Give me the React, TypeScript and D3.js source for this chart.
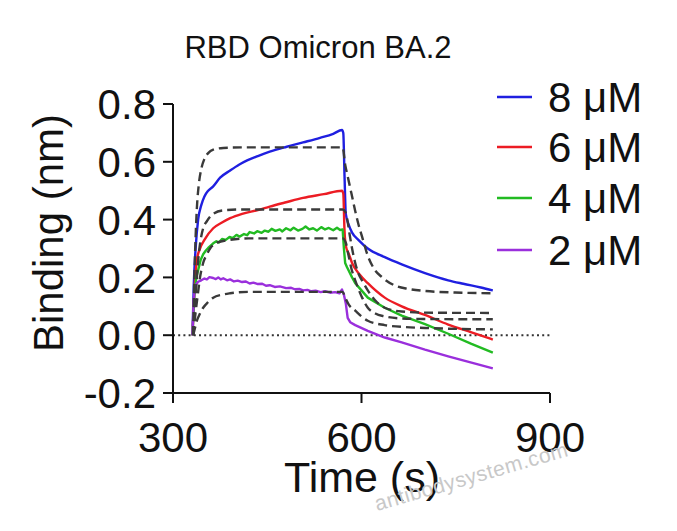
import { useRef, useEffect } from 'react';
import * as d3 from 'd3';

type Pt = [number, number];

// Measured sensorgrams (time s, binding nm)
const trace8uM: Pt[] = [
  [331, 0], [333, 0.17], [336, 0.3], [340, 0.4], [345, 0.45], [350, 0.48], [356, 0.5], [364, 0.515],
  [375, 0.545], [391, 0.57], [405, 0.59], [418, 0.605], [435, 0.62], [454, 0.635], [481, 0.652],
  [507, 0.667], [534, 0.683], [555, 0.697], [569, 0.71], [571, 0.7], [573, 0.55], [575, 0.42],
  [580, 0.38], [585, 0.355], [595, 0.33], [610, 0.3], [637, 0.27], [664, 0.245], [701, 0.215],
  [738, 0.19], [762, 0.178], [790, 0.165], [809, 0.155],
];

const trace6uM: Pt[] = [
  [331, 0], [334, 0.15], [338, 0.26], [343, 0.3], [350, 0.33], [364, 0.37], [378, 0.39], [391, 0.405],
  [410, 0.42], [435, 0.433], [454, 0.445], [480, 0.46], [507, 0.475], [540, 0.488], [569, 0.5],
  [571, 0.49], [573, 0.36], [575, 0.31], [580, 0.28], [585, 0.25], [597, 0.21], [610, 0.18],
  [637, 0.13], [664, 0.1], [701, 0.07], [738, 0.037], [775, 0.01], [809, -0.015],
];

const trace4uM: Pt[] = [
  [331, 0], [334, 0.14], [337, 0.2], [340, 0.225], [344, 0.26], [348, 0.28], [352, 0.292], [356, 0.302],
  [360, 0.31], [364, 0.318], [369, 0.325], [373, 0.321], [378, 0.333], [384, 0.33], [390, 0.34],
  [395, 0.336], [401, 0.347], [406, 0.341], [413, 0.35], [418, 0.346], [422, 0.357], [429, 0.352],
  [434, 0.36], [441, 0.354], [446, 0.362], [452, 0.358], [457, 0.368], [463, 0.361], [470, 0.366],
  [474, 0.359], [480, 0.37], [487, 0.363], [492, 0.372], [499, 0.362], [506, 0.368], [511, 0.376],
  [517, 0.366], [523, 0.37], [529, 0.362], [536, 0.374], [542, 0.366], [548, 0.371], [555, 0.363],
  [561, 0.372], [566, 0.364], [570, 0.366], [572, 0.3], [574, 0.25], [577, 0.235], [585, 0.2],
  [590, 0.18], [600, 0.155], [610, 0.13], [637, 0.095], [664, 0.068], [701, 0.038], [738, 0.005],
  [775, -0.03], [809, -0.06],
];

const trace2uM: Pt[] = [
  [331, 0], [333, 0.12], [335, 0.17], [340, 0.185], [345, 0.19], [350, 0.196], [354, 0.193],
  [358, 0.201], [364, 0.198], [368, 0.194], [372, 0.2], [376, 0.193], [380, 0.197], [386, 0.19],
  [391, 0.193], [397, 0.186], [403, 0.189], [410, 0.184], [416, 0.186], [422, 0.179], [428, 0.182],
  [435, 0.177], [442, 0.178], [448, 0.171], [454, 0.173], [462, 0.167], [470, 0.169], [480, 0.163],
  [488, 0.164], [494, 0.159], [501, 0.16], [507, 0.155], [514, 0.157], [520, 0.152], [527, 0.154],
  [535, 0.149], [542, 0.152], [550, 0.147], [558, 0.149], [565, 0.145], [569, 0.158], [572, 0.14],
  [575, 0.11], [578, 0.06], [582, 0.045], [590, 0.035], [610, 0.015], [637, -0.008], [664, -0.025],
  [701, -0.05], [738, -0.073], [775, -0.095], [809, -0.115],
];

// 1:1 global fit curves
const fit8uM: Pt[] = [
  [332, 0], [334, 0.2], [336, 0.34], [338, 0.44], [341, 0.52], [345, 0.575], [350, 0.61], [356, 0.63],
  [364, 0.642], [380, 0.648], [420, 0.65], [570, 0.65], [574, 0.59], [578, 0.55], [582, 0.51],
  [586, 0.47], [590, 0.43], [595, 0.385], [601, 0.34], [610, 0.275], [620, 0.23], [633, 0.2],
  [653, 0.172], [675, 0.16], [701, 0.153], [760, 0.147], [809, 0.145],
];

const fit6uM: Pt[] = [
  [332, 0], [335, 0.1], [338, 0.2], [341, 0.28], [344, 0.33], [348, 0.37], [354, 0.395], [364, 0.42],
  [380, 0.432], [410, 0.435], [570, 0.435], [574, 0.428], [577, 0.405], [581, 0.35], [585, 0.3],
  [590, 0.25], [594, 0.22], [602, 0.185], [610, 0.155], [622, 0.12], [637, 0.095], [664, 0.082],
  [701, 0.078], [809, 0.077],
];

const fit4uM: Pt[] = [
  [332, 0], [336, 0.08], [340, 0.15], [343, 0.2], [348, 0.25], [354, 0.28], [359, 0.3], [370, 0.32],
  [391, 0.33], [420, 0.335], [570, 0.335], [575, 0.32], [579, 0.28], [584, 0.23], [590, 0.19],
  [600, 0.135], [610, 0.095], [622, 0.075], [637, 0.065], [664, 0.058], [701, 0.056], [809, 0.055],
];

const fit2uM: Pt[] = [
  [332, 0], [335, 0.025], [338, 0.05], [343, 0.075], [348, 0.095], [356, 0.115], [364, 0.13],
  [378, 0.14], [391, 0.145], [420, 0.15], [570, 0.15], [574, 0.13], [580, 0.105], [590, 0.085],
  [600, 0.065], [610, 0.05], [637, 0.035], [670, 0.028], [701, 0.025], [809, 0.02],
];

const legendLabels = ['8 μM', '6 μM', '4 μM', '2 μM'];
const traceColors = ['#1f1fe0', '#ec1c24', '#22bb22', '#9a2fdc'];
const xTicks = [300, 600, 900];
const yTicks = [-0.2, 0.0, 0.2, 0.4, 0.6, 0.8];

const FONT = '"Liberation Sans", Arial, Helvetica, sans-serif';

export default function App() {
  const svgRef = useRef<SVGSVGElement>(null);

  useEffect(() => {
    if (!svgRef.current) return;
    const svg = d3.select(svgRef.current);
    svg.selectAll('*').remove();

    const width = 677;
    const height = 531;
    svg.attr('viewBox', `0 0 ${width} ${height}`);

    svg.append('rect').attr('width', width).attr('height', height).attr('fill', '#fff');

    const x = d3.scaleLinear().domain([300, 900]).range([173, 550]);
    const y = d3.scaleLinear().domain([-0.2, 0.8]).range([393, 104]);

    // Zero baseline (dotted)
    svg.append('line')
      .attr('x1', x(300)).attr('x2', x(900))
      .attr('y1', y(0)).attr('y2', y(0))
      .attr('stroke', '#333').attr('stroke-width', 2)
      .attr('stroke-dasharray', '2,3.2');

    const smooth = d3.line<Pt>()
      .x((d) => x(d[0]))
      .y((d) => y(d[1]))
      .curve(d3.curveMonotoneX);
    const raw = d3.line<Pt>()
      .x((d) => x(d[0]))
      .y((d) => y(d[1]));

    // Measured traces
    const traces = [trace8uM, trace6uM, trace4uM, trace2uM];
    traces.forEach((data, i) => {
      svg.append('path')
        .datum(data)
        .attr('d', i >= 2 ? raw : smooth)
        .attr('fill', 'none')
        .attr('stroke', traceColors[i])
        .attr('stroke-width', 2.4)
        .attr('stroke-linejoin', 'round');
    });

    // Fits on top, dashed
    [fit8uM, fit6uM, fit4uM, fit2uM].forEach((data) => {
      svg.append('path')
        .datum(data)
        .attr('d', smooth)
        .attr('fill', 'none')
        .attr('stroke', '#3a3a3a')
        .attr('stroke-width', 2.4)
        .attr('stroke-dasharray', '9,5');
    });

    // Axes
    const axisColor = '#111';
    svg.append('line')
      .attr('x1', x(300)).attr('x2', x(300))
      .attr('y1', y(0.8)).attr('y2', y(-0.2))
      .attr('stroke', axisColor).attr('stroke-width', 2);
    svg.append('line')
      .attr('x1', x(300)).attr('x2', x(900))
      .attr('y1', y(-0.2)).attr('y2', y(-0.2))
      .attr('stroke', axisColor).attr('stroke-width', 2);

    yTicks.forEach((t) => {
      svg.append('line')
        .attr('x1', x(300) - 10).attr('x2', x(300))
        .attr('y1', y(t)).attr('y2', y(t))
        .attr('stroke', axisColor).attr('stroke-width', 2);
      svg.append('text')
        .attr('x', 156).attr('y', y(t))
        .attr('dy', '0.36em')
        .attr('text-anchor', 'end')
        .attr('font-family', FONT).attr('font-size', 42)
        .attr('fill', '#111')
        .text(t.toFixed(1));
    });

    xTicks.forEach((t) => {
      svg.append('line')
        .attr('x1', x(t)).attr('x2', x(t))
        .attr('y1', y(-0.2)).attr('y2', y(-0.2) + 10)
        .attr('stroke', axisColor).attr('stroke-width', 2);
      svg.append('text')
        .attr('x', x(t)).attr('y', 452)
        .attr('text-anchor', 'middle')
        .attr('font-family', FONT).attr('font-size', 42)
        .attr('fill', '#111')
        .text(String(t));
    });

    // Titles
    svg.append('text')
      .attr('x', 318).attr('y', 58)
      .attr('text-anchor', 'middle')
      .attr('font-family', FONT).attr('font-size', 31)
      .attr('fill', '#111')
      .text('RBD Omicron BA.2');

    svg.append('text')
      .attr('x', 362).attr('y', 492)
      .attr('text-anchor', 'middle')
      .attr('font-family', FONT).attr('font-size', 43)
      .attr('fill', '#111')
      .text('Time (s)');

    svg.append('text')
      .attr('transform', `translate(63, 233) rotate(-90)`)
      .attr('text-anchor', 'middle')
      .attr('font-family', FONT).attr('font-size', 42)
      .attr('fill', '#111')
      .text('Binding (nm)');

    // Legend
    const legendY = [97, 147, 198, 250];
    legendLabels.forEach((label, i) => {
      svg.append('line')
        .attr('x1', 497).attr('x2', 532)
        .attr('y1', legendY[i]).attr('y2', legendY[i])
        .attr('stroke', traceColors[i]).attr('stroke-width', 2.4);
      svg.append('text')
        .attr('x', 548).attr('y', legendY[i])
        .attr('dy', '0.36em')
        .attr('font-family', FONT).attr('font-size', 42)
        .attr('fill', '#111')
        .text(label);
    });

    // Watermark
    svg.append('text')
      .attr('transform', 'translate(377, 511) rotate(-16)')
      .attr('font-family', FONT).attr('font-size', 21)
      .attr('fill', '#c8c8c8')
      .attr('letter-spacing', 0.5)
      .text('antibodysystem.com');
  }, []);

  return (
    <svg
      ref={svgRef}
      width={677}
      height={531}
      style={{ position: 'absolute', left: 0, top: 0, display: 'block' }}
    />
  );
}
